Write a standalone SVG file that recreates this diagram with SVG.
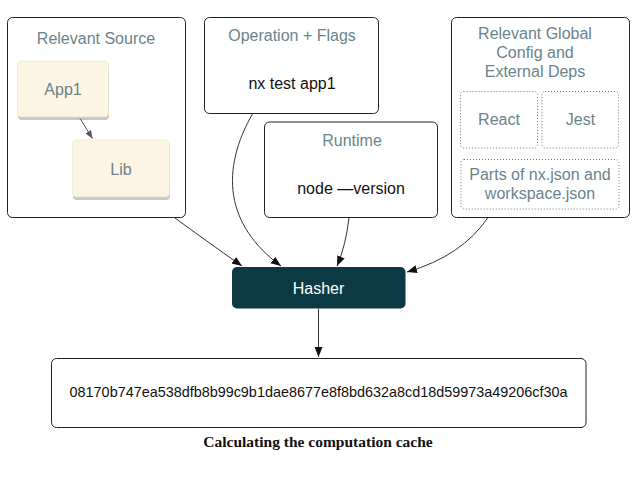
<svg xmlns="http://www.w3.org/2000/svg" width="639" height="482" viewBox="0 0 639 482">
<style>
.box{fill:#fff;stroke:#222;stroke-width:1}
.card{fill:#fcf5e3;stroke:#e8dfc8;stroke-width:0.5}
.shadow{fill:#9a9a9a;opacity:0.55}
.dot{fill:none;stroke:#777;stroke-width:1;stroke-dasharray:1 2}
.t{font-family:"Liberation Sans",Arial,sans-serif;font-size:16px;text-anchor:middle}
.g{fill:#6a848b}
.k{fill:#111}
.w{fill:#fff}
.c{fill:none;stroke:#333;stroke-width:1}
.cg{fill:none;stroke:#555;stroke-width:1}
.cap{font-family:"Liberation Serif","Times New Roman",serif;font-weight:bold;font-size:15.5px;text-anchor:middle;fill:#111}
</style>
<defs>
<marker id="ah" viewBox="0 0 10 10" refX="10" refY="5" markerWidth="10" markerHeight="10" markerUnits="userSpaceOnUse" orient="auto">
<path d="M0,1 L10,5 L0,9 Z" fill="#111"/>
</marker>
<marker id="ahg" viewBox="0 0 10 10" refX="10" refY="5" markerWidth="8" markerHeight="8" markerUnits="userSpaceOnUse" orient="auto">
<path d="M0,1 L10,5 L0,9 Z" fill="#555"/>
</marker>
</defs>

<g id="relevant-source">
<rect class="box" x="7.5" y="17.5" width="178" height="200" rx="5"/>
<text class="t g" x="96" y="43.5">Relevant Source</text>
</g>
<g id="app1">
<rect class="shadow" x="18" y="63" width="91" height="57" rx="4"/>
<rect class="card" x="17.5" y="61" width="91" height="56" rx="4"/>
<text class="t g" x="63" y="94.5">App1</text>
</g>
<g id="lib">
<rect class="shadow" x="73" y="142" width="97" height="58" rx="4"/>
<rect class="card" x="72.5" y="140" width="97" height="57" rx="4"/>
<text class="t g" x="121" y="174.5">Lib</text>
</g>
<g id="operation">
<rect class="box" x="204.5" y="17.5" width="174" height="96" rx="5"/>
<text class="t g" x="292" y="40.5">Operation + Flags</text>
<text class="t k" x="292" y="88.5">nx test app1</text>
</g>
<g id="runtime">
<rect class="box" x="264.5" y="122" width="173" height="95.5" rx="5"/>
<text class="t g" x="352" y="146">Runtime</text>
<text class="t k" x="351" y="193.5">node —version</text>
</g>
<g id="global">
<rect class="box" x="451.5" y="17.5" width="178" height="200" rx="5"/>
<text class="t g" x="535" y="39">Relevant Global</text>
<text class="t g" x="535" y="58">Config and</text>
<text class="t g" x="535" y="77">External Deps</text>
</g>
<g id="react">
<rect class="dot" x="460.5" y="91.5" width="77" height="56.5" rx="3"/>
<text class="t g" x="499" y="125">React</text>
</g>
<g id="jest">
<rect class="dot" x="542" y="91.5" width="76.5" height="56.5" rx="3"/>
<text class="t g" x="580.5" y="125">Jest</text>
</g>
<g id="parts">
<rect class="dot" x="461" y="159.5" width="158" height="49.5" rx="3"/>
<text class="t g" x="540" y="180">Parts of nx.json and</text>
<text class="t g" x="540" y="199">workspace.json</text>
</g>
<g id="hasher">
<rect x="232" y="267" width="173.5" height="41.5" rx="5" fill="#0b3a44"/>
<text class="t w" x="318.5" y="293.5">Hasher</text>
</g>
<g id="hash">
<rect class="box" x="51.5" y="358.5" width="534.5" height="69" rx="5"/>
<text x="318.5" y="396.5" font-family="Liberation Sans,Arial,sans-serif" font-size="14.4" text-anchor="middle" fill="#111">08170b747ea538dfb8b99c9b1dae8677e8f8bd632a8cd18d59973a49206cf30a</text>
</g>
<g id="caption">
<text class="cap" x="318" y="447">Calculating the computation cache</text>
</g>

<g id="connectors">
<path class="cg" d="M80,118.5 L92.5,138.5" marker-end="url(#ahg)"/>
<path class="c" d="M175,218 Q205,240 242,266" marker-end="url(#ah)"/>
<path class="c" d="M253,113 C220,170 225,225 281,266" marker-end="url(#ah)"/>
<path class="c" d="M349,217.5 Q346,245 337,266" marker-end="url(#ah)"/>
<path class="c" d="M488,217.5 Q462,256 407,272" marker-end="url(#ah)"/>
<path class="c" d="M318.5,308.5 L318.5,357" marker-end="url(#ah)"/>
</g>
</svg>
